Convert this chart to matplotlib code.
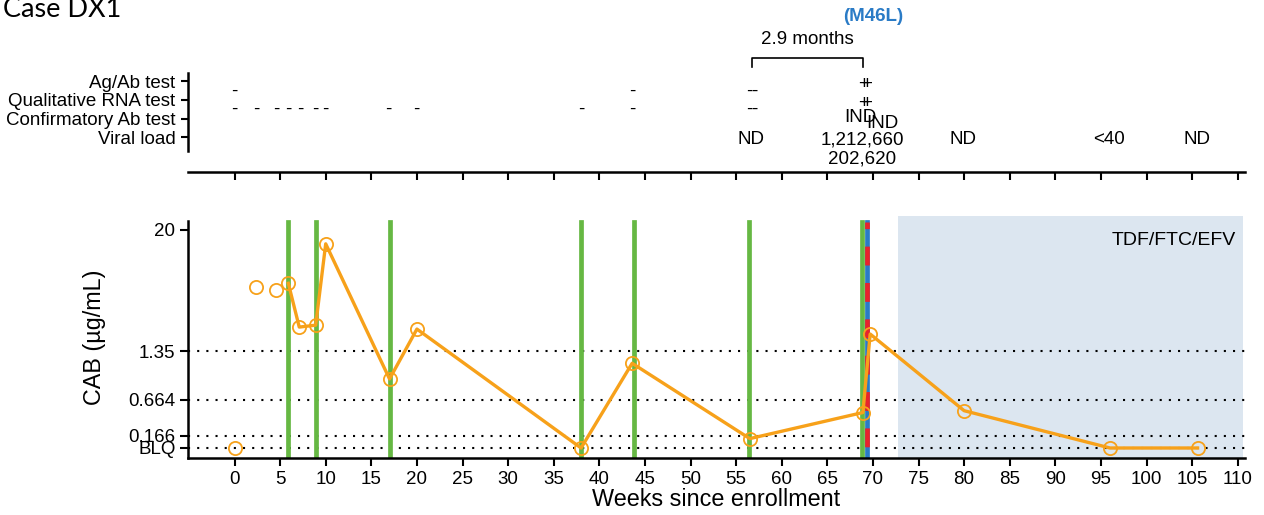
import numpy as np
import matplotlib.pyplot as plt

plt.rcParams['font.family'] = ['Liberation Sans', 'DejaVu Sans']

# ---- CAB concentrations (ug/mL), BLQ drawn at the BLQ level ----
BLQ = 0.025
cab_weeks = [0, 2.4, 4.6, 5.9, 7.1, 8.9, 10.0, 17.0, 20.0, 38.0, 43.6,
             56.5, 68.9, 69.7, 80.0, 96.0, 105.6]
cab_values = [BLQ, 5.6, 5.2, 6.1, 2.3, 2.4, 14.7, 0.90, 2.2, BLQ, 1.13,
              0.11, 0.41, 1.97, 0.44, BLQ, BLQ]
n_unjoined = 3  # first draws are not joined by the line

injection_weeks = [5.9, 8.9, 17.0, 38.0, 43.8, 56.4, 68.85]
hiv_dx_week = 69.35
art_start, art_end = 72.8, 110.6
art_label = 'TDF/FTC/EFV'

ytick_values = [BLQ, 0.166, 0.664, 1.35, 20]
ytick_labels = ['BLQ', '0.166', '0.664', '1.35', '20']
ref_levels = [BLQ, 0.166, 0.664, 1.35]

# ---- HIV test results ----
test_rows = ['Viral load', 'Confirmatory Ab test', 'Qualitative RNA test', 'Ag/Ab test']
ag_weeks = [0, 43.6, 56.4, 57.0, 69.0, 69.3]
ag_results = ['-', '-', '-', '-', '+', '+']
rna_weeks = [0, 2.4, 4.6, 5.9, 7.2, 8.9, 10.0, 16.9, 19.9, 38.0, 43.6,
             56.4, 57.0, 69.0, 69.3]
rna_results = ['-', '-', '-', '-', '-', '-', '-', '-', '-', '-', '-',
               '-', '-', '+', '+']
conf_weeks = [68.6, 71.0]
conf_results = ['IND', 'IND']
vl_weeks = [56.6, 68.8, 68.8, 79.9, 95.9, 105.5]
vl_results = ['ND', '1,212,660', '202,620', 'ND', '<40', 'ND']

interval_start, interval_end = 56.7, 68.9
interval_label = '2.9 months'
mutation_week = 70.0
mutation_label = '(M46L)'

# piecewise log scale for the CAB axis
log_knots = np.log10([0.001, BLQ, 0.166, 0.664, 1.35, 20, 100])
pos_knots = np.array([-10.4, 10, 22, 58, 107, 228, 300.3])


def fwd(v):
    v = np.clip(np.asarray(v, dtype=float), 1e-6, None)
    return np.interp(np.log10(v), log_knots, pos_knots)


def inv(p):
    return 10 ** np.interp(np.asarray(p, dtype=float), pos_knots, log_knots)


ORANGE = '#f7a11a'
GREEN = '#66b843'
BLUE = '#2a7bc6'
RED = '#e8242b'
SHADE = '#dce6f0'
FS = 13.5

fig = plt.figure(figsize=(12.64, 5.15), dpi=100)
W, H = 1264, 515
L, R = 188, 1245
ax = fig.add_axes([L / W, (H - 458) / H, (R - L) / W, (458 - 216) / H])
top = fig.add_axes([L / W, (H - 172) / H, (R - L) / W, (172 - 8) / H])

# ---- lower panel ----
ax.set_yscale('function', functions=(fwd, inv))
ax.set_xlim(-5.1, 110.8)
ax.set_ylim(inv(0), inv(242))
ax.axvspan(art_start, art_end, color=SHADE, lw=0, zorder=0)
for lv in ref_levels:
    ax.axhline(lv, color='black', lw=1.5, ls=(0, (1, 3.4)), zorder=1)
vtop = (458 - 222) / (458 - 216)
for w in injection_weeks:
    ax.axvline(w, ymax=vtop, color=GREEN, lw=3.4, zorder=2)
ax.axvline(hiv_dx_week, ymax=vtop, color=BLUE, lw=3.4, zorder=2)
ax.axvline(hiv_dx_week, ymax=vtop, color=RED, lw=3.4, zorder=3,
           ls=(5.33, (4.0, 3.7)))
ax.plot(cab_weeks[n_unjoined:], cab_values[n_unjoined:], color=ORANGE, lw=2.4, zorder=4)
ax.plot(cab_weeks, cab_values, 'o', ms=9.5, mfc='none', mec=ORANGE, mew=1.3, zorder=5)
ax.text(0.991, 0.9, art_label, transform=ax.transAxes, ha='right', va='center', fontsize=14)

ax.set_yticks(ytick_values)
ax.set_yticklabels(ytick_labels)
ax.yaxis.set_minor_locator(plt.NullLocator())
ax.set_xticks(np.arange(0, 111, 5))
ax.tick_params(labelsize=FS, width=1.5, length=6, pad=3)
for s in ['top', 'right']:
    ax.spines[s].set_visible(False)
for s in ['left', 'bottom']:
    ax.spines[s].set_linewidth(1.8)
ax.spines['left'].set_bounds(inv(0), inv(237))
ax.set_xlabel('Weeks since enrollment', fontsize=16.8, labelpad=0.5)
ax.set_ylabel('CAB (\u00b5g/mL)', fontsize=16.8, labelpad=16)

# ---- upper panel ----
top.set_xlim(ax.get_xlim())
top.set_ylim(-1.85, 6.9)
top.set_yticks(range(len(test_rows)))
top.set_yticklabels(test_rows)
top.set_xticks(np.arange(0, 111, 5))
top.set_xticklabels([])
top.tick_params(labelsize=FS, width=1.5, length=6, pad=3)
top.tick_params(axis='y', length=5, pad=4)
for s in ['top', 'right']:
    top.spines[s].set_visible(False)
for s in ['left', 'bottom']:
    top.spines[s].set_linewidth(1.8)
top.spines['left'].set_bounds(-0.73, 3.44)
top.patch.set_alpha(0)

txt = dict(ha='center', va='center', fontsize=FS)
for w, r in zip(ag_weeks, ag_results):
    top.text(w, 3 - (0.55 if r == '-' else 0.18), r, **txt)
for w, r in zip(rna_weeks, rna_results):
    top.text(w, 2 - (0.52 if r == '-' else 0.18), r, **txt)
for i, (w, r) in enumerate(zip(conf_weeks, conf_results)):
    top.text(w, 1 + (0.08 if i == 0 else -0.27), r, **txt)
prev = None
for w, r in zip(vl_weeks, vl_results):
    dy = -1.17 if w == prev else -0.14
    top.text(w, dy, r, **txt)
    prev = w

top.plot([interval_start, interval_start, interval_end, interval_end],
         [3.76, 4.21, 4.21, 3.76], color='black', lw=1.2, clip_on=False)
top.text((interval_start + interval_end) / 2, 5.22, interval_label, **txt)
top.text(mutation_week, 6.43, mutation_label, ha='center', va='center',
         fontsize=13.5, fontweight='bold', color=BLUE)

fig.text(3 / W, 1 - 16.7 / H, 'Case DX1', ha='left', va='baseline',
         fontsize=19.5, family=['Lato', 'DejaVu Sans'])

fig.savefig('out.png', dpi=100)
